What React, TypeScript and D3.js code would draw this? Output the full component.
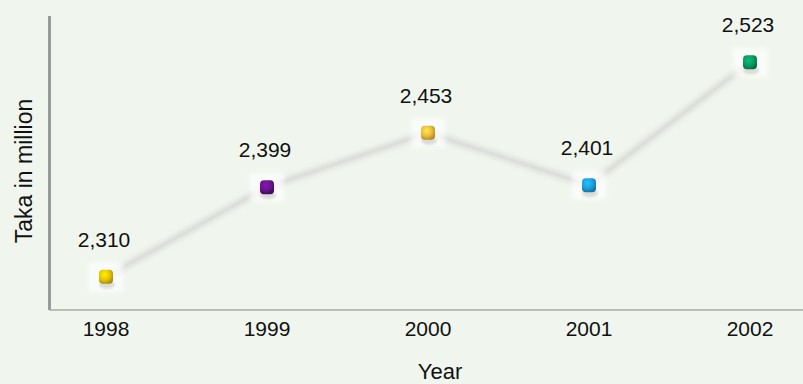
import React from "react";
import * as d3 from "d3";

const years = ["1998", "1999", "2000", "2001", "2002"];
const values = [2310, 2399, 2453, 2401, 2523];
const labels = ["2,310", "2,399", "2,453", "2,401", "2,523"];
const markerColors = ["#e8c400", "#6a1490", "#e8bd3c", "#1c9ede", "#0a9a62"];
const markerDark = ["#9a8a10", "#3e0a5a", "#b08820", "#1670a0", "#066a40"];

const W = 803;
const H = 384;

export default function App() {
  const x = d3.scalePoint<string>().domain(years).range([106, 750]);
  const y = d3.scaleLinear().domain([2277, 2569]).range([310, 16]);
  const pts = years.map((yr, i) => [x(yr) as number, y(values[i])] as [number, number]);
  const line = d3.line<[number, number]>()(pts) || "";
  const font = "'Liberation Sans', Arial, Helvetica, sans-serif";
  return (
    <svg width={W} height={H} style={{ position: "absolute", left: 0, top: 0 }}>
      <defs>
        <filter id="blur2" x="-50%" y="-50%" width="200%" height="200%">
          <feGaussianBlur stdDeviation="2.5" />
        </filter>
        <filter id="blur1" x="-50%" y="-50%" width="200%" height="200%">
          <feGaussianBlur stdDeviation="1.2" />
        </filter>
        {markerColors.map((c, i) => (
          <radialGradient key={i} id={`g${i}`} cx="40%" cy="35%" r="70%">
            <stop offset="0%" stopColor={d3.color(c)!.brighter(0.6).toString()} />
            <stop offset="55%" stopColor={c} />
            <stop offset="100%" stopColor={markerDark[i]} />
          </radialGradient>
        ))}
      </defs>
      <rect x={0} y={0} width={W} height={H} fill="#f0f6ee" />
      <path d={line} fill="none" stroke="#dadcd8" strokeWidth={7} filter="url(#blur2)" opacity={0.9} />
      <path d={line} fill="none" stroke="#dcdeda" strokeWidth={2.5} />
      <line x1={49.5} x2={W} y1={310} y2={310} stroke="#a8aaa8" strokeWidth={1.5} />
      <line x1={49.5} x2={49.5} y1={16} y2={310} stroke="#9a9a9a" strokeWidth={3} />
      {pts.map(([px, py], i) => (
        <g key={i}>
          <rect x={px - 17} y={py - 14} width={34} height={28} fill="#ffffff" opacity={0.7} filter="url(#blur2)" />
          <ellipse cx={px + 1} cy={py + 8} rx={8} ry={4} fill="#c8c8c0" opacity={0.6} filter="url(#blur1)" />
          <rect x={px - 7} y={py - 7} width={14} height={14} rx={4} fill={`url(#g${i})`} />
        </g>
      ))}
      {pts.map(([px, py], i) => (
        <text key={i} x={px - 2} y={py - 30} textAnchor="middle" fontFamily={font} fontSize={21} fill="#111">
          {labels[i]}
        </text>
      ))}
      {years.map((yr) => (
        <text key={yr} x={x(yr) as number} y={336} textAnchor="middle" fontFamily={font} fontSize={21} fill="#111">
          {yr}
        </text>
      ))}
      <text x={440} y={379} textAnchor="middle" fontFamily={font} fontSize={22} fill="#111">Year</text>
      <text
        transform={`translate(32,171) rotate(-90)`}
        textAnchor="middle"
        fontFamily={font}
        fontSize={23}
        fill="#111"
      >
        Taka in million
      </text>
    </svg>
  );
}
